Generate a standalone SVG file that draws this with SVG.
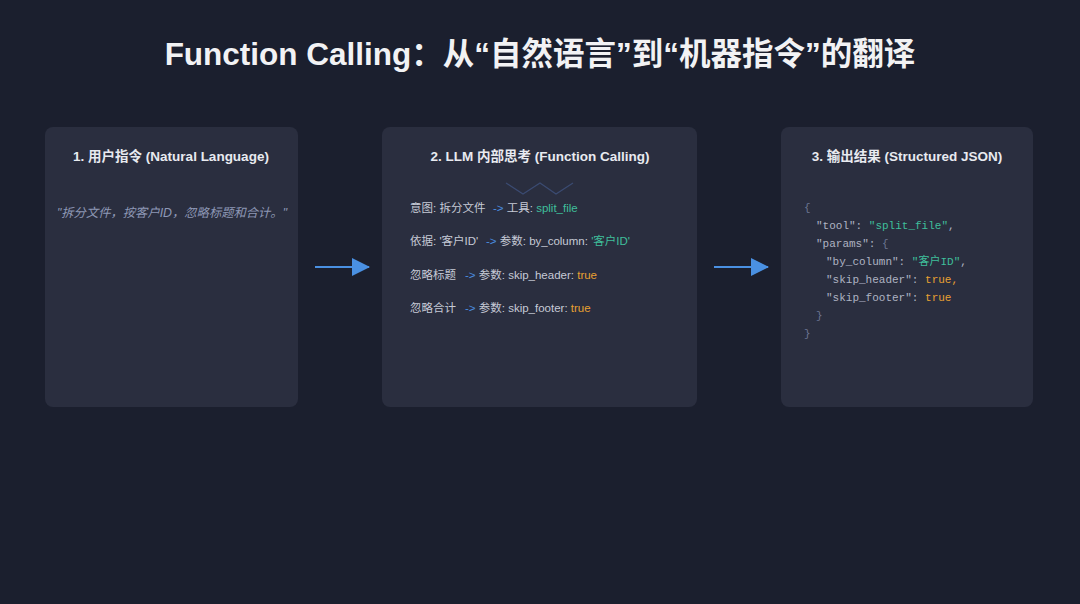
<svg xmlns="http://www.w3.org/2000/svg" width="1080" height="604" viewBox="0 0 1080 604">
  <defs>
    <style>
      .sans { font-family: "Liberation Sans", "Noto Sans CJK SC", sans-serif; }
      .mono { font-family: "Liberation Mono", "Noto Sans CJK SC", monospace; font-size: 11px; }
      .card { fill: #2a2e3f; }
      .title { fill: #f2f2f4; font-size: 31.5px; font-weight: bold; }
      .head { fill: #e8eaf0; font-size: 13.5px; font-weight: bold; }
      .quote { fill: #8e98b6; font-size: 12.3px; font-style: italic; }
      .row { fill: #c6cad6; font-size: 11.5px; }
      .arrowtxt { fill: #4a8fe0; }
      .str { fill: #3fbf9b; }
      .bool { fill: #e8a032; }
      .key { fill: #aeb3c2; }
      .punct { fill: #6c7592; }
      .flow { stroke: #4a90e2; stroke-width: 2; fill: none; }
    </style>
    <marker id="tri" viewBox="0 0 18 18" refX="17" refY="9" markerWidth="18" markerHeight="18" markerUnits="userSpaceOnUse" orient="auto">
      <path d="M0,0 L18,9 L0,18 Z" fill="#4a90e2"/>
    </marker>
  </defs>

  <rect width="1080" height="604" fill="#1b1f2e"/>

  <text class="sans title" x="540" y="65" text-anchor="middle">Function Calling：从“自然语言”到“机器指令”的翻译</text>

  <!-- step 1: user instruction -->
  <g id="user-input">
    <rect class="card" x="45" y="127" width="253" height="280" rx="8"/>
    <text class="sans head" x="171" y="161" text-anchor="middle">1. 用户指令 (Natural Language)</text>
    <text class="sans quote" x="172" y="217" text-anchor="middle">"拆分文件，按客户ID，忽略标题和合计。"</text>
  </g>

  <!-- step 2: model reasoning -->
  <g id="llm-reasoning">
    <rect class="card" x="382" y="127" width="315" height="280" rx="8"/>
    <text class="sans head" x="540" y="161" text-anchor="middle">2. LLM 内部思考 (Function Calling)</text>
    <polyline points="506,183 523,194 540,183 556,194 573,183" fill="none" stroke="#3b4b72" stroke-width="1.2"/>
    <text class="sans row" x="410" y="212">意图: 拆分文件</text>
    <text class="sans row" x="493" y="212"><tspan class="arrowtxt">-&gt;</tspan> 工具: <tspan class="str">split_file</tspan></text>
    <text class="sans row" x="410" y="245">依据: '客户ID'</text>
    <text class="sans row" x="486" y="245"><tspan class="arrowtxt">-&gt;</tspan> 参数: by_column: <tspan class="str">'客户ID'</tspan></text>
    <text class="sans row" x="410" y="279">忽略标题</text>
    <text class="sans row" x="465" y="279"><tspan class="arrowtxt">-&gt;</tspan> 参数: skip_header: <tspan class="bool">true</tspan></text>
    <text class="sans row" x="410" y="312">忽略合计</text>
    <text class="sans row" x="465" y="312"><tspan class="arrowtxt">-&gt;</tspan> 参数: skip_footer: <tspan class="bool">true</tspan></text>
  </g>

  <!-- step 3: structured output -->
  <g id="json-output">
    <rect class="card" x="781" y="127" width="252" height="280" rx="8"/>
    <text class="sans head" x="907" y="161" text-anchor="middle">3. 输出结果 (Structured JSON)</text>
    <text class="mono punct" x="804" y="211">{</text>
    <text class="mono key" x="816" y="229">"tool": <tspan class="str">"split_file"</tspan>,</text>
    <text class="mono key" x="816" y="247">"params": <tspan class="punct">{</tspan></text>
    <text class="mono key" x="826" y="265">"by_column": <tspan class="str">"客户ID"</tspan>,</text>
    <text class="mono key" x="826" y="283">"skip_header": <tspan class="bool">true,</tspan></text>
    <text class="mono key" x="826" y="301">"skip_footer": <tspan class="bool">true</tspan></text>
    <text class="mono punct" x="816" y="319">}</text>
    <text class="mono punct" x="804" y="337">}</text>
  </g>

  <g id="connectors">
    <line class="flow" x1="315" y1="267" x2="369" y2="267" marker-end="url(#tri)"/>
    <line class="flow" x1="714" y1="267" x2="768" y2="267" marker-end="url(#tri)"/>
  </g>
</svg>
